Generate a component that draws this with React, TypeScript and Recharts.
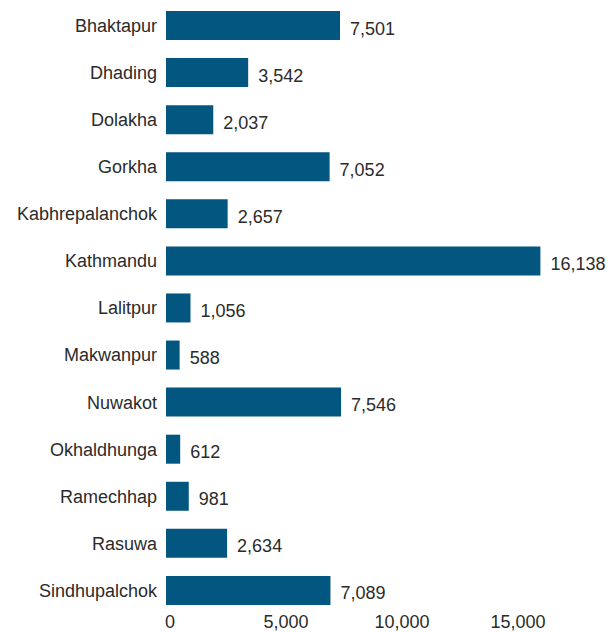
import { Bar, BarChart, LabelList, XAxis, YAxis } from 'recharts'

const districts = [
  'Bhaktapur',
  'Dhading',
  'Dolakha',
  'Gorkha',
  'Kabhrepalanchok',
  'Kathmandu',
  'Lalitpur',
  'Makwanpur',
  'Nuwakot',
  'Okhaldhunga',
  'Ramechhap',
  'Rasuwa',
  'Sindhupalchok',
]

const values = [7501, 3542, 2037, 7052, 2657, 16138, 1056, 588, 7546, 612, 981, 2634, 7089]

const xTicks = [0, 5000, 10000, 15000]

const data = districts.map((district, i) => ({ district, value: values[i] }))

const font = '"Liberation Sans", Arial, Helvetica, sans-serif'
const textColor = '#2b2b2b'

function ValueLabel(props: any) {
  const { x, y, width, height, value } = props
  return (
    <text
      x={Number(x) + Number(width) + 10}
      y={Number(y) + Number(height) / 2 + 3}
      dominantBaseline="central"
      fill={textColor}
      fontSize={18}
      fontFamily={font}
    >
      {Number(value).toLocaleString('en-US')}
    </text>
  )
}

export default function App() {
  return (
    <div style={{ position: 'absolute', top: 0, left: 0, width: 609, height: 632, background: '#fff' }}>
      <BarChart
        width={609}
        height={632}
        data={data}
        layout="vertical"
        margin={{ top: 2, right: 37, left: 0, bottom: 0 }}
      >
        <XAxis
          type="number"
          domain={[0, 17500]}
          ticks={xTicks}
          allowDataOverflow
          axisLine={false}
          tickLine={false}
          tickSize={0}
          tickMargin={1}
          height={18}
          tick={{ fill: textColor, fontSize: 18, fontFamily: font, dx: 4 }}
          tickFormatter={(v) => Number(v).toLocaleString('en-US')}
        />
        <YAxis
          type="category"
          dataKey="district"
          width={166}
          axisLine={false}
          tickLine={false}
          tickSize={0}
          tickMargin={9}
          interval={0}
          tick={{ fill: textColor, fontSize: 18, fontFamily: font }}
        />
        <Bar dataKey="value" fill="#02567f" barSize={29} isAnimationActive={false}>
          <LabelList dataKey="value" content={ValueLabel} />
        </Bar>
      </BarChart>
    </div>
  )
}
